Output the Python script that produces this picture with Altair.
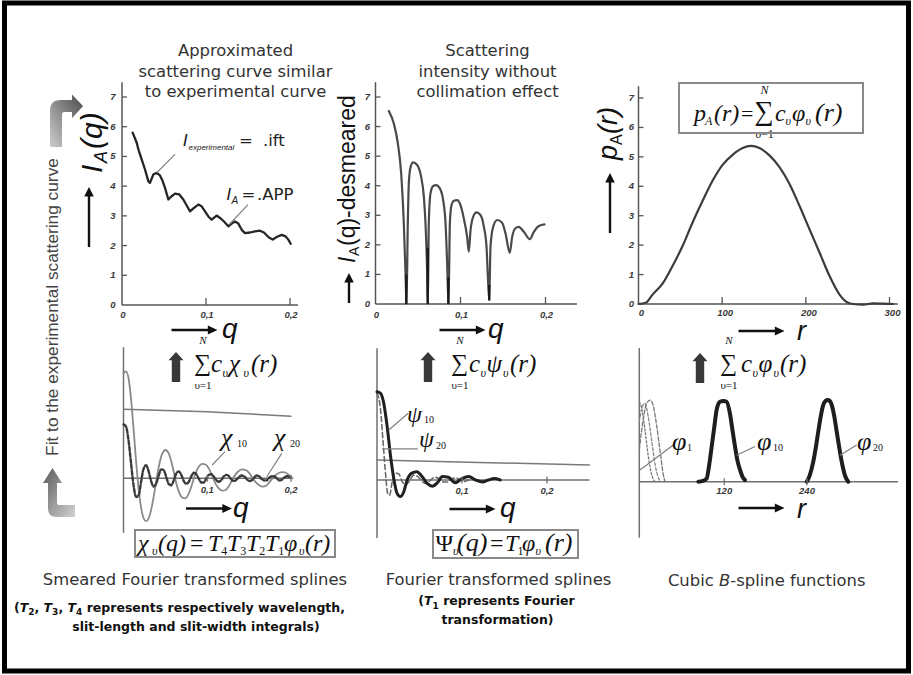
import altair as alt
import pandas as pd

# ---------------- curve values ----------------
# smeared scattering curve I_A(q) (.APP fitted on the experimental .ift)
IA_Q = [0.0127, 0.0175, 0.0195, 0.0234, 0.0274, 0.0313, 0.0333, 0.0373, 0.0413, 0.0452,
        0.0484, 0.0512, 0.0552, 0.0591, 0.0631, 0.0682, 0.073, 0.077, 0.081, 0.0857,
        0.0909, 0.0948, 0.0988, 0.1028, 0.1067, 0.1127, 0.1167, 0.1214, 0.1266, 0.1306,
        0.1345, 0.1385, 0.1425, 0.1464, 0.1524, 0.1583, 0.1643, 0.169, 0.1742, 0.1794,
        0.1841, 0.1901, 0.1948, 0.198, 0.2008]
IA_I = [5.80, 5.46, 5.24, 4.90, 4.56, 4.17, 4.11, 4.39, 4.45, 4.36,
        4.17, 3.94, 3.55, 3.66, 3.75, 3.72, 3.55, 3.35, 3.15, 3.27,
        3.38, 3.32, 3.15, 2.98, 2.87, 3.01, 2.93, 2.81, 2.65, 2.74,
        2.81, 2.74, 2.53, 2.42, 2.44, 2.48, 2.50, 2.44, 2.29, 2.20,
        2.29, 2.36, 2.31, 2.20, 2.06]

# desmeared intensity
DES_Q = [0.0157, 0.0216, 0.0263, 0.0302, 0.0333, 0.0353, 0.0365,
         0.038, 0.0392, 0.0412, 0.0443, 0.049, 0.0537, 0.0569, 0.0588, 0.0608, 0.0616,
         0.0627, 0.0647, 0.0678, 0.0714, 0.0757, 0.0796, 0.0824, 0.0843, 0.0859,
         0.0875, 0.0894, 0.0922, 0.0961, 0.1, 0.1039, 0.1078, 0.1098,
         0.1118, 0.1149, 0.1188, 0.1235, 0.1275, 0.1306, 0.1322, 0.1338,
         0.1353, 0.1384, 0.1431, 0.149, 0.1529, 0.158,
         0.1608, 0.1647, 0.1686, 0.1745, 0.1816,
         0.1863, 0.1922, 0.1988]
DES_I = [6.53, 6.10, 5.43, 4.42, 2.73, 1.04, 0.0,
         2.73, 4.08, 4.62, 4.79, 4.70, 4.30, 3.62, 2.73, 1.04, 0.0,
         2.73, 3.74, 3.99, 4.02, 3.91, 3.51, 2.73, 1.37, 0.0,
         2.73, 3.34, 3.49, 3.51, 3.34, 2.89, 2.27, 1.77,
         2.50, 2.95, 3.10, 3.01, 2.61, 1.94, 0.92, 0.14,
         1.94, 2.61, 2.84, 2.75, 2.39, 1.73,
         2.27, 2.56, 2.61, 2.44, 2.19,
         2.44, 2.64, 2.69]
# darker strokes where the desmeared curve touches its minima: (q, from, to)
DES_STEMS = [(0.0362, 0.0, 1.0), (0.0614, 0.0, 1.9), (0.0857, 0.0, 0.9), (0.1338, 0.12, 0.65)]

# distance distribution p_A(r)
PR_R = [0, 8.6, 16.5, 28.5, 40.5, 52.5, 64.5, 76.5, 88.5, 100.5, 112.5, 124.5, 134.5, 144.5,
        156.5, 168.5, 180.5, 192.5, 204.5, 216.5, 228.5, 240.5, 250.5, 256.5, 268.5, 280.5,
        292.5, 304.5]
PR_P = [0, 0.04, 0.31, 0.68, 1.28, 1.96, 2.76, 3.50, 4.19, 4.73, 5.07, 5.30, 5.37, 5.30,
        5.05, 4.65, 4.08, 3.33, 2.53, 1.74, 0.94, 0.31, 0.04, 0, -0.02, 0.02, 0.01, 0]

# smeared Fourier transformed splines chi_v(q)
CHI1 = [(0.0, 1.0), (0.1, 0.965), (0.2, 0.9)]
CHI10 = [(0.000, 1.52), (0.003, 1.55), (0.006, 1.45), (0.009, 1.15), (0.012, 0.72), (0.015, 0.25),
         (0.018, -0.15), (0.021, -0.42), (0.024, -0.58), (0.027, -0.62), (0.030, -0.58),
         (0.034, -0.40), (0.038, -0.12), (0.042, 0.16), (0.046, 0.35), (0.050, 0.41), (0.054, 0.36),
         (0.058, 0.20), (0.062, -0.02), (0.066, -0.19), (0.070, -0.28), (0.074, -0.29), (0.078, -0.22),
         (0.082, -0.08), (0.086, 0.07), (0.090, 0.17), (0.094, 0.21), (0.098, 0.20), (0.102, 0.14),
         (0.106, 0.03), (0.110, -0.08), (0.114, -0.15), (0.118, -0.18), (0.122, -0.17), (0.126, -0.11),
         (0.130, -0.02), (0.134, 0.06), (0.138, 0.11), (0.142, 0.13), (0.146, 0.12), (0.150, 0.08),
         (0.154, 0.01), (0.158, -0.06), (0.162, -0.10), (0.166, -0.12), (0.170, -0.11), (0.174, -0.06),
         (0.178, 0.0), (0.182, 0.05), (0.186, 0.08), (0.190, 0.09), (0.194, 0.08), (0.198, 0.04),
         (0.202, 0.0)]
CHI20 = [(0.000, 0.78), (0.003, 0.75), (0.006, 0.55), (0.009, 0.22), (0.012, -0.10), (0.015, -0.27),
         (0.018, -0.25), (0.021, -0.05), (0.024, 0.14), (0.027, 0.19), (0.030, 0.10), (0.033, -0.04),
         (0.036, -0.12), (0.039, -0.08), (0.042, 0.04), (0.045, 0.13), (0.048, 0.12), (0.051, 0.02),
         (0.054, -0.08), (0.057, -0.10), (0.060, -0.03), (0.063, 0.07), (0.066, 0.10), (0.069, 0.05),
         (0.072, -0.04), (0.075, -0.08), (0.078, -0.05), (0.081, 0.03), (0.084, 0.08), (0.087, 0.06),
         (0.090, -0.01), (0.093, -0.06), (0.096, -0.06), (0.099, 0.00), (0.102, 0.05), (0.105, 0.06),
         (0.108, 0.02), (0.111, -0.03), (0.114, -0.05), (0.117, -0.02), (0.120, 0.03), (0.123, 0.05),
         (0.126, 0.03), (0.129, -0.02), (0.132, -0.04), (0.135, -0.02), (0.138, 0.02), (0.141, 0.04),
         (0.144, 0.03), (0.147, -0.01), (0.150, -0.04), (0.153, -0.03), (0.156, 0.01), (0.159, 0.04),
         (0.162, 0.03), (0.165, -0.01), (0.168, -0.03), (0.171, -0.03), (0.174, 0.01), (0.177, 0.03),
         (0.180, 0.03), (0.183, 0.00), (0.186, -0.03), (0.189, -0.02), (0.192, 0.01), (0.195, 0.03),
         (0.198, 0.02)]

# Fourier transformed splines psi_v(q)
PSI1 = [(0.0, 0.29), (0.25, 0.217)]
PSI10 = [(0.0, 1.28), (0.004, 1.26), (0.008, 1.11), (0.012, 0.77), (0.016, 0.34), (0.020, 0.0),
         (0.0235, -0.19), (0.0275, -0.24), (0.0315, -0.17), (0.0355, 0.0), (0.041, 0.10), (0.047, 0.12),
         (0.053, 0.05), (0.059, -0.05), (0.065, -0.09), (0.071, -0.04), (0.077, 0.05), (0.084, 0.04),
         (0.092, -0.04), (0.100, 0.02), (0.108, 0.05), (0.116, 0.0), (0.124, -0.03), (0.131, 0.0),
         (0.138, 0.02), (0.145, 0.0)]
PSI20 = [(0.0, 1.26), (0.004, 1.04), (0.007, 0.58), (0.010, 0.10), (0.0125, -0.19), (0.015, -0.22),
         (0.0175, -0.05), (0.0215, 0.10), (0.0255, 0.09), (0.0295, -0.02), (0.0335, -0.07),
         (0.038, -0.02), (0.043, 0.07), (0.048, 0.05), (0.053, -0.02), (0.058, -0.05), (0.063, 0.0),
         (0.068, 0.04), (0.073, 0.02), (0.078, -0.03), (0.083, -0.03), (0.088, 0.02), (0.093, 0.03),
         (0.098, 0.0), (0.103, -0.02), (0.108, 0.0), (0.113, 0.02), (0.118, 0.0), (0.125, -0.01),
         (0.13, 0.0)]

# cubic B-spline functions phi_v(r)
PHI_A = [(-3.2, 1.0), (0, 0.93), (5, 0.65), (10, 0.31), (15, 0.08), (19.6, 0.0)]
PHI_B = [(-3.2, 0.4), (2, 0.75), (7, 0.97), (12.3, 1.02), (17, 0.95), (22, 0.7), (27, 0.38),
         (31, 0.12), (34, 0.0)]
PHI_C = [(-3.2, 0.75), (0, 0.9), (5, 0.98), (10, 0.8), (15, 0.5), (20, 0.2), (25, 0.04), (28, 0.0)]
PHI10_R = [82.4, 89, 94.5, 98, 101.8, 105.5, 109, 113.8, 118.6, 123.5, 128.3, 132, 135.6, 139,
           142.8, 146.5, 150.1]
PHI10 = [0.0, 0.01, 0.04, 0.20, 0.44, 0.68, 0.90, 1.0, 1.01, 1.0, 0.85, 0.64, 0.44, 0.27, 0.15,
         0.06, 0.02]
PHI20_R = [239.6, 244, 249.1, 252.8, 256.4, 260, 263.6, 267, 270, 273, 275.8, 279.5, 283, 286.7,
           290.3, 295, 299.9]
PHI20 = [0.0, 0.08, 0.25, 0.43, 0.63, 0.82, 0.96, 1.01, 1.02, 1.01, 0.96, 0.82, 0.63, 0.43, 0.25,
         0.08, 0.0]

# ticks and tick labels
TOP_Y_TICKS = [0, 1, 2, 3, 4, 5, 6, 7]
Q_TICKS = [0, 0.1, 0.2]
Q_LABELS = ["0", "0,1", "0,2"]
R_TICKS = [0, 100, 200, 300]
R_LABELS = ["0", "100", "200", "300"]
SPLINE_R_TICKS = [120, 240]
SPLINE_R_LABELS = ["120", "240"]

# ---------------- panel placement (domain -> pixel range) ----------------
SC = {
    "ia":  {"x": ([0, 0.2], [122, 290]),     "y": ([0, 7], [305, 97])},
    "des": {"x": ([0, 0.2], [375.5, 545.5]), "y": ([0, 7], [304, 97])},
    "pr":  {"x": ([0, 300], [638.5, 889.5]), "y": ([0, 7], [304, 98])},
    "chi": {"x": ([0, 0.2], [123.5, 291]),   "y": ([0, 1], [478.3, 409.3])},
    "psi": {"x": ([0, 0.2], [377, 547]),     "y": ([0, 1], [480, 411])},
    "phi": {"x": ([0, 240], [641.5, 807]),   "y": ([0, 1], [481.7, 401.7])},
}

SANS = "DejaVu Sans"
ARIAL = "Liberation Sans"
SERIF = "Liberation Serif"


def X(p, f="x"):
    d, r = SC[p]["x"]
    return alt.X(f + ":Q", scale=alt.Scale(domain=d, range=r, nice=False, zero=False), axis=None)


def Y(p, f="y"):
    d, r = SC[p]["y"]
    return alt.Y(f + ":Q", scale=alt.Scale(domain=d, range=r, nice=False, zero=False), axis=None)


def curve(p, xs, ys, color, width, dash=None, interp="linear"):
    df = pd.DataFrame({"x": list(xs), "y": list(ys), "k": list(range(len(xs)))})
    mk = dict(color=color, strokeWidth=width, interpolate=interp, strokeCap="round", strokeJoin="round")
    if dash:
        mk["strokeDash"] = dash
    return alt.Chart(df).mark_line(**mk).encode(x=X(p), y=Y(p), order=alt.Order("k:Q"))


def pairs(p, pts, color, width, dash=None, interp="linear"):
    xs, ys = zip(*pts)
    return curve(p, xs, ys, color, width, dash, interp)


def segments(p, rows, color, width):
    df = pd.DataFrame(rows, columns=["x", "y", "x2", "y2"])
    return alt.Chart(df).mark_rule(color=color, strokeWidth=width).encode(
        x=X(p), y=Y(p), x2=alt.X2("x2:Q"), y2=alt.Y2("y2:Q"))


def ticks(p, xs, ys, orient, size, xoff=0.0, yoff=0.0, color="#555555"):
    df = pd.DataFrame({"x": xs, "y": ys})
    return alt.Chart(df).mark_tick(orient=orient, size=size, thickness=1.3, color=color,
                                   xOffset=xoff, yOffset=yoff, opacity=1).encode(x=X(p), y=Y(p))


def tick_labels(p, xs, ys, labels, dx=0.0, dy=0.0):
    df = pd.DataFrame({"x": xs, "y": ys, "t": labels})
    return alt.Chart(df).mark_text(font=ARIAL, fontStyle="italic", fontWeight="bold", fontSize=9.5,
                                   color="#3a3a3a", dx=dx, dy=dy, align="center",
                                   baseline="middle").encode(x=X(p), y=Y(p), text="t:N")


layers = []

# ---------------- outer frame ----------------
frame = pd.DataFrame([dict(x=4.5, x2=908.5, y=3, y2=671)])
layers.append(alt.Chart(frame).mark_rect(fillOpacity=0, stroke="#000000", strokeWidth=5).encode(
    x=alt.X("x:Q", scale=None, axis=None), x2="x2:Q",
    y=alt.Y("y:Q", scale=None, axis=None), y2="y2:Q"))

# ---------------- top row ----------------
AX = "#555555"
layers += [
    segments("ia", [(0, 0, 0, 7.5), (0, 0, 0.2095, 0)], AX, 1.5),
    ticks("ia", [0] * 7, TOP_Y_TICKS[1:], "horizontal", 5, xoff=2.5),
    ticks("ia", Q_TICKS[1:], [0, 0], "vertical", 7, yoff=-3.5),
    tick_labels("ia", [0] * 8, TOP_Y_TICKS, [str(v) for v in TOP_Y_TICKS], dx=-9),
    tick_labels("ia", Q_TICKS, [0, 0, 0], Q_LABELS, dx=1, dy=10),
    curve("ia", IA_Q, IA_I, "#262626", 2.3),
    segments("ia", [(0.0631, 5.07, 0.0413, 4.45), (0.150, 3.38, 0.1274, 2.70)], "#808080", 1.2),

    segments("des", [(0, 0, 0, 7.5), (0, 0, 0.237, 0)], AX, 1.5),
    ticks("des", [0] * 7, TOP_Y_TICKS[1:], "horizontal", 5, xoff=2.5),
    ticks("des", Q_TICKS[1:], [0, 0], "vertical", 7, yoff=-3.5),
    tick_labels("des", [0] * 8, TOP_Y_TICKS, [str(v) for v in TOP_Y_TICKS], dx=-8),
    tick_labels("des", Q_TICKS, [0, 0, 0], Q_LABELS, dx=1, dy=11),
    curve("des", DES_Q, DES_I, "#4a4a4a", 2.2, interp="monotone"),
    segments("des", [(q, a, q, b) for q, a, b in DES_STEMS], "#1a1a1a", 2.4),

    segments("pr", [(0, 0, 0, 7.4), (0, 0, 310, 0)], AX, 1.5),
    ticks("pr", [0] * 7, TOP_Y_TICKS[1:], "horizontal", 5, xoff=2.5),
    ticks("pr", R_TICKS[1:], [0, 0, 0], "vertical", 7, yoff=-3.5),
    tick_labels("pr", [0] * 8, TOP_Y_TICKS, [str(v) for v in TOP_Y_TICKS], dx=-7),
    tick_labels("pr", R_TICKS, [0] * 4, R_LABELS, dx=3, dy=9),
    curve("pr", PR_R, PR_P, "#3c3c3c", 2.2, interp="monotone"),
]

# ---------------- bottom row ----------------
BX = "#707070"
layers += [
    segments("chi", [(0, 1.9, 0, -0.79), (0, 0, 0.2024, 0)], BX, 1.5),
    pairs("chi", CHI1, "#7a7a7a", 1.5),
    pairs("chi", CHI10, "#8a8a8a", 1.8, interp="monotone"),
    pairs("chi", CHI20, "#3a3a3a", 2.4, dash=[4, 2], interp="monotone"),
    ticks("chi", Q_TICKS[1:], [0, 0], "vertical", 7, color=BX),
    tick_labels("chi", Q_TICKS[1:], [0, 0], Q_LABELS[1:], dy=12),
    segments("chi", [(0.1212, 0.386, 0.1059, 0.193), (0.189, 0.362, 0.171, 0.023)], "#808080", 1.2),

    segments("psi", [(0, 1.91, 0, -0.84), (0, 0, 0.25, 0)], BX, 1.5),
    pairs("psi", PSI1, "#7a7a7a", 1.5),
    pairs("psi", PSI20, "#6a6a6a", 1.6, dash=[5, 3], interp="monotone"),
    pairs("psi", PSI10, "#202020", 3.0, interp="monotone"),
    ticks("psi", Q_TICKS[1:], [0, 0], "vertical", 7, color=BX),
    tick_labels("psi", Q_TICKS[1:], [0, 0], Q_LABELS[1:], dy=11),
    segments("psi", [(0.0368, 0.967, 0.0135, 0.72), (0.048, 0.45, 0.006, 0.45)], "#808080", 1.2),

    segments("phi", [(-3.2, 1.67, -3.2, -0.70), (-3.2, 0, 372, 0)], BX, 1.5),
    pairs("phi", PHI_A, "#777777", 1.3, dash=[2, 2], interp="monotone"),
    pairs("phi", PHI_C, "#888888", 1.3, dash=[3, 2], interp="monotone"),
    pairs("phi", PHI_B, "#777777", 1.3, dash=[4, 2], interp="monotone"),
    curve("phi", PHI10_R, PHI10, "#1e1e1e", 4.0, interp="monotone"),
    curve("phi", PHI20_R, PHI20, "#1e1e1e", 4.0, interp="monotone"),
    ticks("phi", SPLINE_R_TICKS, [0, 0], "vertical", 7, color=BX),
    tick_labels("phi", SPLINE_R_TICKS, [0, 0], SPLINE_R_LABELS, dy=9),
    segments("phi", [(46.1, 0.46, -2.2, 0.146), (164.6, 0.44, 138, 0.33), (312, 0.46, 287.8, 0.33)],
             "#808080", 1.2),
]

# ---------------- arrows (symbol paths) ----------------
TOP_CURVED = ("M -0.574,0.944 L -0.574,-0.4 Q -0.574,-0.796 -0.18,-0.796 L 0.24,-0.796 L 0.24,-1 "
              "L 0.648,-0.574 L 0.24,-0.12 L 0.24,-0.352 L -0.05,-0.352 Q -0.13,-0.352 -0.13,-0.25 "
              "L -0.13,0.944 Z")
BOTTOM_CURVED = ("M -0.26,-0.98 L 0.12,-0.38 L -0.08,-0.38 L -0.08,0.42 Q -0.08,0.5 0.0,0.5 "
                 "L 0.64,0.5 L 0.64,0.98 L -0.1,0.98 Q -0.44,0.98 -0.44,0.64 L -0.44,-0.38 "
                 "L -0.64,-0.38 Z")
BLOCK_UP = "M 0,-1 L 0.5,-0.45 L 0.28,-0.45 L 0.28,1 L -0.28,1 L -0.28,-0.45 L -0.5,-0.45 Z"
RIGHT = "M -1,-0.05 L 0.58,-0.05 L 0.58,-0.2 L 1,0 L 0.58,0.2 L 0.58,0.05 L -1,0.05 Z"
UP_LONG = "M -0.04,1 L -0.04,-0.68 L -0.16,-0.68 L 0,-1 L 0.16,-0.68 L 0.04,-0.68 L 0.04,1 Z"
UP_SHORT = "M -0.08,1 L -0.08,-0.36 L -0.32,-0.36 L 0,-1 L 0.32,-0.36 L 0.08,-0.36 L 0.08,1 Z"

grad_top = alt.LinearGradient(gradient="linear", x1=1, y1=0, x2=0, y2=1,
                              stops=[alt.GradientStop(color="#4a4a4a", offset=0),
                                     alt.GradientStop(color="#cccccc", offset=1)])
grad_bottom = alt.LinearGradient(gradient="linear", x1=0, y1=0, x2=1, y2=1,
                                 stops=[alt.GradientStop(color="#5a5a5a", offset=0),
                                        alt.GradientStop(color="#d2d2d2", offset=1)])


def symbol(path, pts, size, fill):
    df = pd.DataFrame(pts, columns=["x", "y"])
    return alt.Chart(df).mark_point(shape=path, filled=True, fill=fill, size=size, opacity=1,
                                    strokeWidth=0).encode(
        x=alt.X("x:Q", scale=None, axis=None), y=alt.Y("y:Q", scale=None, axis=None))


layers += [
    symbol(TOP_CURVED, [(65.5, 121.5)], 54 * 54, grad_top),
    symbol(BOTTOM_CURVED, [(59, 492.5)], 50 * 50, grad_bottom),
    symbol(BLOCK_UP, [(176, 367), (428, 367), (700, 368)], 30 * 30, "#383838"),
    symbol(RIGHT, [(194.5, 330), (209, 508.5), (462.5, 330), (472.5, 509), (761.5, 331), (761.5, 508)],
           46 * 46, "#111111"),
    symbol(UP_LONG, [(89, 217), (610, 203)], 60 * 60, "#111111"),
    symbol(UP_SHORT, [(349, 288)], 30 * 30, "#111111"),
]

# ---------------- text ----------------
pieces = []


def put(text, x, y, size, font=SANS, style="normal", weight="normal", color="#333333",
        align="left", angle=0.0):
    pieces.append(dict(text=text, x=x, y=y, size=size, font=font, style=style, weight=weight,
                       color=color, align=align, angle=float(angle)))


# panel headings
for t, y in [("Approximated", 56), ("scattering curve similar", 76.5), ("to experimental curve", 97)]:
    put(t, 235.5, y, 16.4, align="center")
for t, y in [("Scattering", 56), ("intensity without", 76.5), ("collimation effect", 97)]:
    put(t, 487.5, y, 16.4, align="center")

# captions
put("Smeared Fourier transformed splines", 195, 585, 16.4, align="center")
put("Fourier transformed splines", 498.5, 585, 16.4, align="center")
put("Cubic", 667.9, 586, 16.4)
put("B", 719.0, 586, 16.4, style="italic")
put("-spline functions", 730.3, 586, 16.4)

# bold notes
BOLD = dict(font=SANS, weight="bold", color="#111111")
put("(", 14, 611.5, 12.5, **BOLD)
put("T", 19.7, 611.5, 12.5, style="italic", **BOLD)
put("2", 28.2, 615, 9, **BOLD)
put(",", 34.5, 611.5, 12.5, **BOLD)
put("T", 43.6, 611.5, 12.5, style="italic", **BOLD)
put("3", 52.1, 615, 9, **BOLD)
put(",", 58.4, 611.5, 12.5, **BOLD)
put("T", 67.5, 611.5, 12.5, style="italic", **BOLD)
put("4", 76.0, 615, 9, **BOLD)
put("represents respectively wavelength,", 86.7, 611.5, 12.5, **BOLD)
put("slit-length and slit-width integrals)", 196, 630.5, 12.5, align="center", **BOLD)
put("(", 418.3, 605, 12.5, **BOLD)
put("T", 424.0, 605, 12.5, style="italic", **BOLD)
put("1", 432.5, 608.5, 9, **BOLD)
put("represents Fourier", 443.2, 605, 12.5, **BOLD)
put("transformation)", 497.5, 624, 12.5, align="center", **BOLD)

# curve annotations in the top-left panel
put("I", 183, 146, 16.5, style="italic", color="#222222")
put("experimental", 188.5, 150, 8, font=ARIAL, style="italic", color="#222222")
put("=", 239, 146, 16.5, color="#222222")
put(".ift", 263, 146, 16.5, color="#222222")
put("I", 226.5, 200, 16.5, style="italic", color="#222222")
put("A", 231.5, 203.5, 10, font=ARIAL, style="italic", color="#222222")
put("=", 241.5, 200, 16.5, color="#222222")
put(".APP", 257, 200, 16.5, color="#222222")

# vertical axis titles
ROT = dict(font=ARIAL, style="italic", color="#111111", angle=270)
ROTU = dict(font=ARIAL, color="#111111", angle=270)
put("I", 102, 173, 30, **ROT)
put("A", 107, 163, 18, **ROT)
put("(q)", 102, 149, 30, **ROT)
put("I", 355, 263, 23, **ROT)
put("A", 359, 256, 14, **ROTU)
put("(q)-desmeared", 355, 246, 23, **ROTU)
put("p", 617, 160, 27, **ROT)
put("A", 622, 145, 16, **ROTU)
put("(r)", 617, 134, 27, **ROT)
put("Fit to the experimental scattering curve", 58, 307, 17.3, font=ARIAL, color="#444444",
    align="center", angle=270)

# abscissa names beside the arrows
QV = dict(font=ARIAL, style="italic", color="#111111")
put("q", 222, 338, 28, **QV)
put("q", 233, 517, 28, **QV)
put("q", 488, 338, 28, **QV)
put("q", 500, 517, 28, **QV)
put("r", 797, 340, 27, **QV)
put("r", 797, 518, 27, **QV)

# spline labels
SI = dict(font=SERIF, style="italic", color="#111111")
SR = dict(font=SERIF, color="#111111")
put("χ", 221, 446, 26, **SI)
put("10", 237, 447, 10, **SR)
put("χ", 274, 446, 26, **SI)
put("20", 290, 447, 10, **SR)
put("ψ", 407, 421.5, 24, **SI)
put("10", 424, 423, 10, **SR)
put("ψ", 419, 447, 24, **SI)
put("20", 436, 449, 10, **SR)
put("φ", 672, 450, 26, **SI)
put("1", 687, 451, 10, **SR)
put("φ", 757, 450, 26, **SI)
put("10", 773, 451, 10, **SR)
put("φ", 857, 450, 26, **SI)
put("20", 873, 451, 10, **SR)

# summation formulas under the top panels
for sx, items in [
    (202.5, [("c", 211), ("υ", 222.5, True), ("χ", 229), ("υ", 243.5, True), ("(r)", 251)]),
    (459.5, [("c", 469), ("υ", 480.5, True), ("ψ", 486.5), ("υ", 503, True), ("(r)", 510)]),
    (728.5, [("c", 741), ("υ", 752.5, True), ("φ", 758.5), ("υ", 773.5, True), ("(r)", 780)]),
]:
    put("∑", sx, 371, 24, align="center", **SR)
    put("N", sx + 0.5, 344, 11, align="center", **SI)
    put("υ=1", sx + 0.5, 389, 11, align="center", **SR)
    for it in items:
        if len(it) == 3:
            put(it[0], it[1], 377, 12, **SI)
        else:
            put(it[0], it[1], 372, 25, **SI)

# boxed formula of p_A(r)
put("p", 694, 121, 24, **SI)
put("A", 705, 125, 12, **SI)
put("(r)", 714, 121, 24, **SI)
put("=", 741, 121, 22, **SR)
put("∑", 764, 120, 27, align="center", **SR)
put("N", 764.5, 94, 12, align="center", **SI)
put("υ=1", 764.5, 138, 12, align="center", **SR)
put("c", 775, 121, 24, **SI)
put("υ", 785.5, 125, 12, **SI)
put("φ", 792, 121, 24, **SI)
put("υ", 805.5, 125, 12, **SI)
put("(r)", 815, 121, 26, **SI)

# boxed formula of chi_v(q)
put("χ", 138, 551, 24, **SI)
put("υ", 152, 555, 12, **SI)
put("(q)", 158, 551, 24, **SI)
put("=", 190, 551, 24, **SR)
for tx, d in [(208, "4"), (227, "3"), (246, "2"), (265, "1")]:
    put("T", tx, 551, 24, **SI)
    put(d, tx + 13.3, 555, 12, **SR)
put("φ", 284, 551, 24, **SI)
put("υ", 299, 555, 12, **SI)
put("(r)", 305, 551, 24, **SI)

# boxed formula of Psi_v(q)
put("Ψ", 435.5, 551, 24, **SR)
put("υ", 453, 555, 12, **SI)
put("(q)", 457, 551, 26, **SI)
put("=", 490, 551, 24, **SR)
put("T", 505, 551, 24, **SI)
put("1", 517.5, 555, 12, **SR)
put("φ", 522, 551, 24, **SI)
put("υ", 535.5, 555, 12, **SI)
put("(r)", 545, 551, 26, **SI)

tdf = pd.DataFrame(pieces)
for key, g in tdf.groupby(["font", "style", "weight", "color", "align", "angle"], sort=False):
    font, style, weight, color, align, angle = key
    layers.append(
        alt.Chart(g[["text", "x", "y", "size"]].reset_index(drop=True)).mark_text(
            font=font, fontStyle=style, fontWeight=weight, color=color, align=align,
            angle=float(angle), baseline="alphabetic").encode(
            x=alt.X("x:Q", scale=None, axis=None), y=alt.Y("y:Q", scale=None, axis=None),
            text="text:N", size=alt.Size("size:Q", scale=None, legend=None)))

# formula frames drawn over the text so the lower index meets the border
fboxes = pd.DataFrame([
    dict(x=679, x2=863, y=83, y2=133),
    dict(x=135, x2=335, y=530, y2=557),
    dict(x=433, x2=578, y=530, y2=558),
])
layers.append(alt.Chart(fboxes).mark_rect(fillOpacity=0, stroke="#8a8a8a", strokeWidth=2).encode(
    x=alt.X("x:Q", scale=None, axis=None), x2="x2:Q",
    y=alt.Y("y:Q", scale=None, axis=None), y2="y2:Q"))

chart = alt.layer(*layers).resolve_scale(
    x="independent", y="independent", size="independent"
).properties(
    width=913, height=675, padding=0, background="white",
    autosize=alt.AutoSizeParams(type="none"),
).configure_view(strokeWidth=0)

chart.save("out.html", embed_options={"renderer": "svg", "actions": False})
